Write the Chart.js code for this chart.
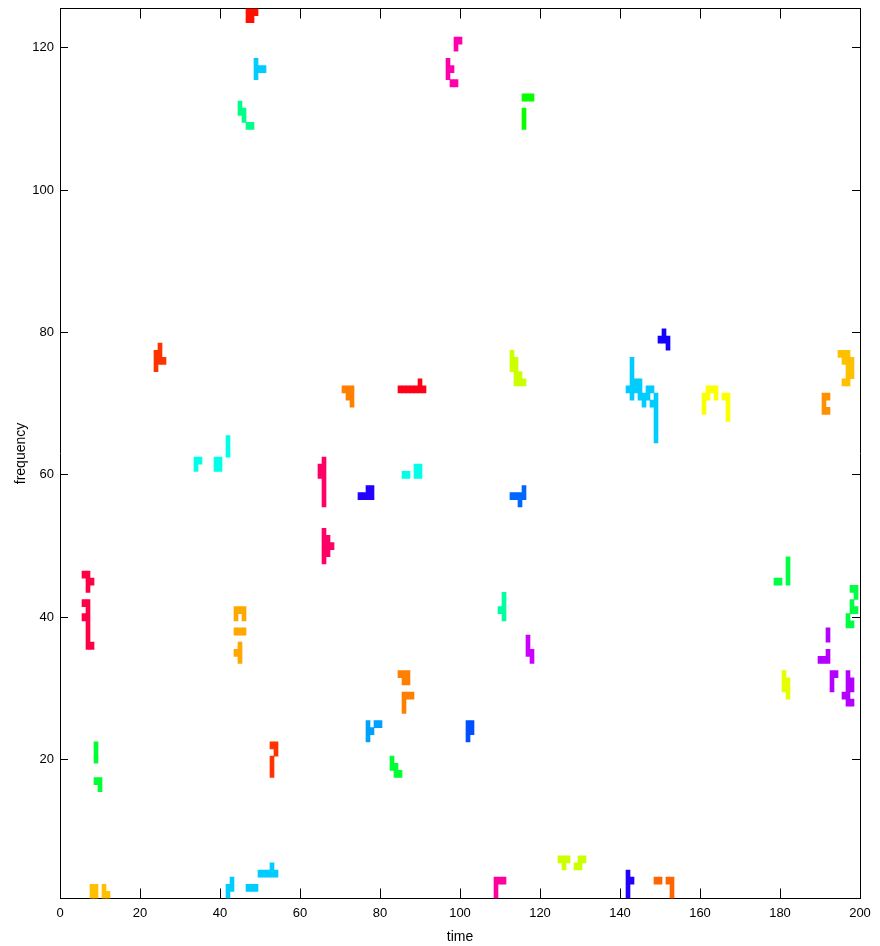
<!DOCTYPE html>
<html>
<head>
<meta charset="utf-8">
<script src="https://cdn.jsdelivr.net/npm/chart.js@4.4.1/dist/chart.umd.min.js"></script>
<style>
  html, body { margin: 0; padding: 0; background: #ffffff; }
  canvas { display: block; }
</style>
</head>
<body>
<canvas id="c" width="880" height="946"></canvas>
<script>
// ---- tick labels ----
const timeTicks = [0, 20, 40, 60, 80, 100, 120, 140, 160, 180, 200];
const freqTicks = [20, 40, 60, 80, 100, 120];

// ---- tracks: [time, frequency] cells ----
const track01 = [[47,125],[48,125],[49,125],[47,124],[48,124]];
const track02 = [[49,116],[49,117],[49,118],[50,117],[51,117]];
const track03 = [[45,111],[45,112],[46,110],[46,111],[47,109],[48,109]];
const track04 = [[99,120],[99,121],[100,121]];
const track05 = [[97,116],[97,117],[97,118],[98,117],[98,115],[99,115]];
const track06 = [[116,113],[117,113],[118,113],[116,109],[116,110],[116,111]];
const track07 = [[24,75],[24,76],[24,77],[25,76],[25,77],[25,78],[26,76]];
const track08 = [[71,72],[72,72],[72,71],[73,72],[73,71],[73,70]];
const track09 = [[85,72],[86,72],[87,72],[88,72],[89,72],[90,72],[91,72],[90,73]];
const track10 = [[34,61],[34,62],[35,62],[39,61],[39,62],[40,61],[40,62],[42,63],[42,64],[42,65]];
const track11 = [[66,56],[66,57],[66,58],[66,59],[66,60],[66,61],[66,62],[65,60],[65,61]];
const track12 = [[75,57],[76,57],[77,57],[78,57],[77,58],[78,58]];
const track13 = [[86,60],[87,60],[89,60],[89,61],[90,60],[90,61]];
const track14 = [[113,75],[113,76],[113,77],[114,73],[114,74],[114,75],[114,76],[115,73],[115,74],[116,73]];
const track15 = [[113,57],[114,57],[115,57],[116,57],[116,58],[115,56]];
const track16 = [[150,79],[151,79],[151,80],[152,78],[152,79]];
const track17 = [[142,72],[143,71],[143,72],[143,73],[143,74],[143,75],[143,76],[144,72],[144,73],
                 [145,71],[145,72],[145,73],[146,70],[146,71],[147,71],[147,72],[148,70],[148,72],
                 [149,65],[149,66],[149,67],[149,68],[149,69],[149,70],[149,71]];
const track18 = [[161,69],[161,70],[161,71],[162,71],[162,72],[163,72],[164,71],[164,72],[166,71],
                 [167,68],[167,69],[167,70],[167,71]];
const track19 = [[195,77],[196,77],[197,77],[196,76],[197,76],[198,76],[197,75],[198,75],[197,74],
                 [198,74],[196,73],[197,73]];
const track20 = [[191,69],[191,70],[191,71],[192,71],[192,69]];
const track21 = [[6,46],[7,46],[7,45],[8,45],[7,44],[6,42],[6,40],[7,36],[7,37],[7,38],[7,39],
                 [7,40],[7,41],[7,42],[8,36]];
const track22 = [[9,20],[9,21],[9,22],[9,17],[10,17],[10,16]];
const track23 = [[66,48],[66,49],[66,50],[66,51],[66,52],[67,49],[67,50],[67,51],[68,50]];
const track24 = [[44,41],[45,41],[46,41],[44,40],[46,40],[44,38],[45,38],[46,38],[45,34],[45,35],
                 [45,36],[44,35]];
const track25 = [[85,32],[86,32],[87,32],[86,31],[87,31],[86,29],[87,29],[88,29],[86,28],[86,27]];
const track26 = [[77,23],[77,24],[77,25],[78,24],[79,25],[80,25]];
const track27 = [[53,22],[54,22],[54,21],[53,18],[53,19],[53,20]];
const track28 = [[83,19],[83,20],[84,18],[84,19],[85,18]];
const track29 = [[111,40],[111,41],[111,42],[111,43],[110,41]];
const track30 = [[117,35],[117,36],[117,37],[118,34],[118,35]];
const track31 = [[102,23],[102,24],[102,25],[103,24],[103,25]];
const track32 = [[182,45],[182,46],[182,47],[182,48],[179,45],[180,45]];
const track33 = [[198,44],[199,44],[199,43],[198,42],[198,41],[199,41],[197,40],[197,39],[198,39]];
const track34 = [[192,37],[192,38],[192,34],[192,35],[190,34],[191,34],[193,32],[194,32],[193,31],
                 [193,30],[197,28],[197,29],[197,30],[197,31],[197,32],[198,31],[198,30],[198,28],[196,29]];
const track35 = [[181,30],[181,31],[181,32],[182,29],[182,30],[182,31]];
const track36 = [[8,1],[8,2],[9,1],[9,2],[11,1],[11,2],[12,1]];
const track37 = [[42,1],[42,2],[43,2],[43,3],[47,2],[48,2],[49,2],[50,4],[51,4],[52,4],[53,4],[54,4],[53,5]];
const track38 = [[109,1],[109,2],[109,3],[110,3],[111,3]];
const track39 = [[125,6],[126,6],[127,6],[126,5],[130,6],[131,6],[129,5],[130,5]];
const track40 = [[142,1],[142,2],[142,3],[142,4],[143,3]];
const track41 = [[149,3],[150,3],[152,3],[153,3],[153,1],[153,2]];

const tracks = [track01,track02,track03,track04,track05,track06,track07,track08,track09,track10,
  track11,track12,track13,track14,track15,track16,track17,track18,track19,track20,
  track21,track22,track23,track24,track25,track26,track27,track28,track29,track30,
  track31,track32,track33,track34,track35,track36,track37,track38,track39,track40,track41];

const trackColors = ['#ff1000','#00ccff','#00ff88','#ff00aa','#ff00aa','#08ff00','#ff3300','#ff8000',
  '#ff0018','#00ffe6','#ff0066','#2400ff','#00ffe6','#ccff00','#0066ff','#1400ff','#00ccff',
  '#fcff00','#ffc000','#ff9000','#ff0044','#00ff33','#ff0066','#ffa800','#ff8000','#00a0ff',
  '#ff3300','#00ff33','#00ffa0','#cc00ff','#0050ff','#00ff44','#00ff44','#b400ff','#e6ff00',
  '#ffc000','#00ccff','#ff00a0','#ccff00','#2000ff','#ff6600'];

// merge vertically adjacent cells of one time step into one floating bar
function toBars(cells) {
  const byT = new Map();
  cells.forEach(([t, f]) => {
    if (!byT.has(t)) byT.set(t, []);
    byT.get(t).push(f);
  });
  const out = [];
  byT.forEach((fs, t) => {
    fs.sort((a, b) => a - b);
    let s = fs[0], p = fs[0];
    for (let i = 1; i <= fs.length; i++) {
      if (i < fs.length && fs[i] === p + 1) { p = fs[i]; continue; }
      out.push({ x: t, y: [s - 0.5, p + 0.5] });
      if (i < fs.length) { s = p = fs[i]; }
    }
  });
  return out;
}

const datasets = tracks.map((cells, i) => ({
  data: toBars(cells),
  backgroundColor: trackColors[i],
  borderWidth: 0,
  barPercentage: 1,
  categoryPercentage: 1,
  grouped: false,
  clip: 0
}));

const tickFont = { family: 'Liberation Sans, Arial, sans-serif', size: 13 };
const titleFont = { family: 'Liberation Sans, Arial, sans-serif', size: 14 };

function noPad(s) { s.paddingTop = 0; s.paddingBottom = 0; s.paddingLeft = 0; s.paddingRight = 0; }

new Chart(document.getElementById('c'), {
  type: 'bar',
  data: { datasets },
  options: {
    responsive: false,
    animation: false,
    layout: { padding: { top: 8.5, right: 20, left: 0, bottom: 0 } },
    plugins: { legend: { display: false }, tooltip: { enabled: false } },
    scales: {
      x: {
        type: 'linear', position: 'bottom', min: 0, max: 200, offset: false,
        afterBuildTicks: s => { s.ticks = timeTicks.map(v => ({ value: v })); },
        ticks: { font: tickFont, color: '#000', padding: 17, maxRotation: 0, autoSkip: false },
        grid: { drawOnChartArea: false, drawTicks: true, tickLength: -10, color: '#000', offset: false },
        border: { display: true, color: '#000', width: 1 },
        title: { display: true, text: 'time', font: titleFont, color: '#000', padding: { top: 0, bottom: 0 } },
        afterFit: s => { s.height = 47.5; noPad(s); }
      },
      x2: {
        type: 'linear', position: 'top', min: 0, max: 200, offset: false,
        afterBuildTicks: s => { s.ticks = timeTicks.map(v => ({ value: v })); },
        ticks: { display: false },
        grid: { drawOnChartArea: false, drawTicks: true, tickLength: -10, color: '#000', offset: false },
        border: { display: true, color: '#000', width: 1 },
        afterFit: s => { s.height = 0; noPad(s); }
      },
      y: {
        type: 'linear', position: 'left', min: 0.5, max: 125.5,
        afterBuildTicks: s => { s.ticks = freqTicks.map(v => ({ value: v })); },
        ticks: { font: tickFont, color: '#000', padding: 14, autoSkip: false },
        grid: { drawOnChartArea: false, drawTicks: true, tickLength: -8, color: '#000' },
        border: { display: true, color: '#000', width: 1 },
        title: { display: true, text: 'frequency', font: titleFont, color: '#000', padding: { top: 13, bottom: 0 } },
        afterFit: s => { s.width = 60; noPad(s); }
      },
      y2: {
        type: 'linear', position: 'right', min: 0.5, max: 125.5,
        afterBuildTicks: s => { s.ticks = freqTicks.map(v => ({ value: v })); },
        ticks: { display: false },
        grid: { drawOnChartArea: false, drawTicks: true, tickLength: -8, color: '#000' },
        border: { display: true, color: '#000', width: 1 },
        afterFit: s => { s.width = 0; noPad(s); }
      }
    }
  }
});
</script>
</body>
</html>
